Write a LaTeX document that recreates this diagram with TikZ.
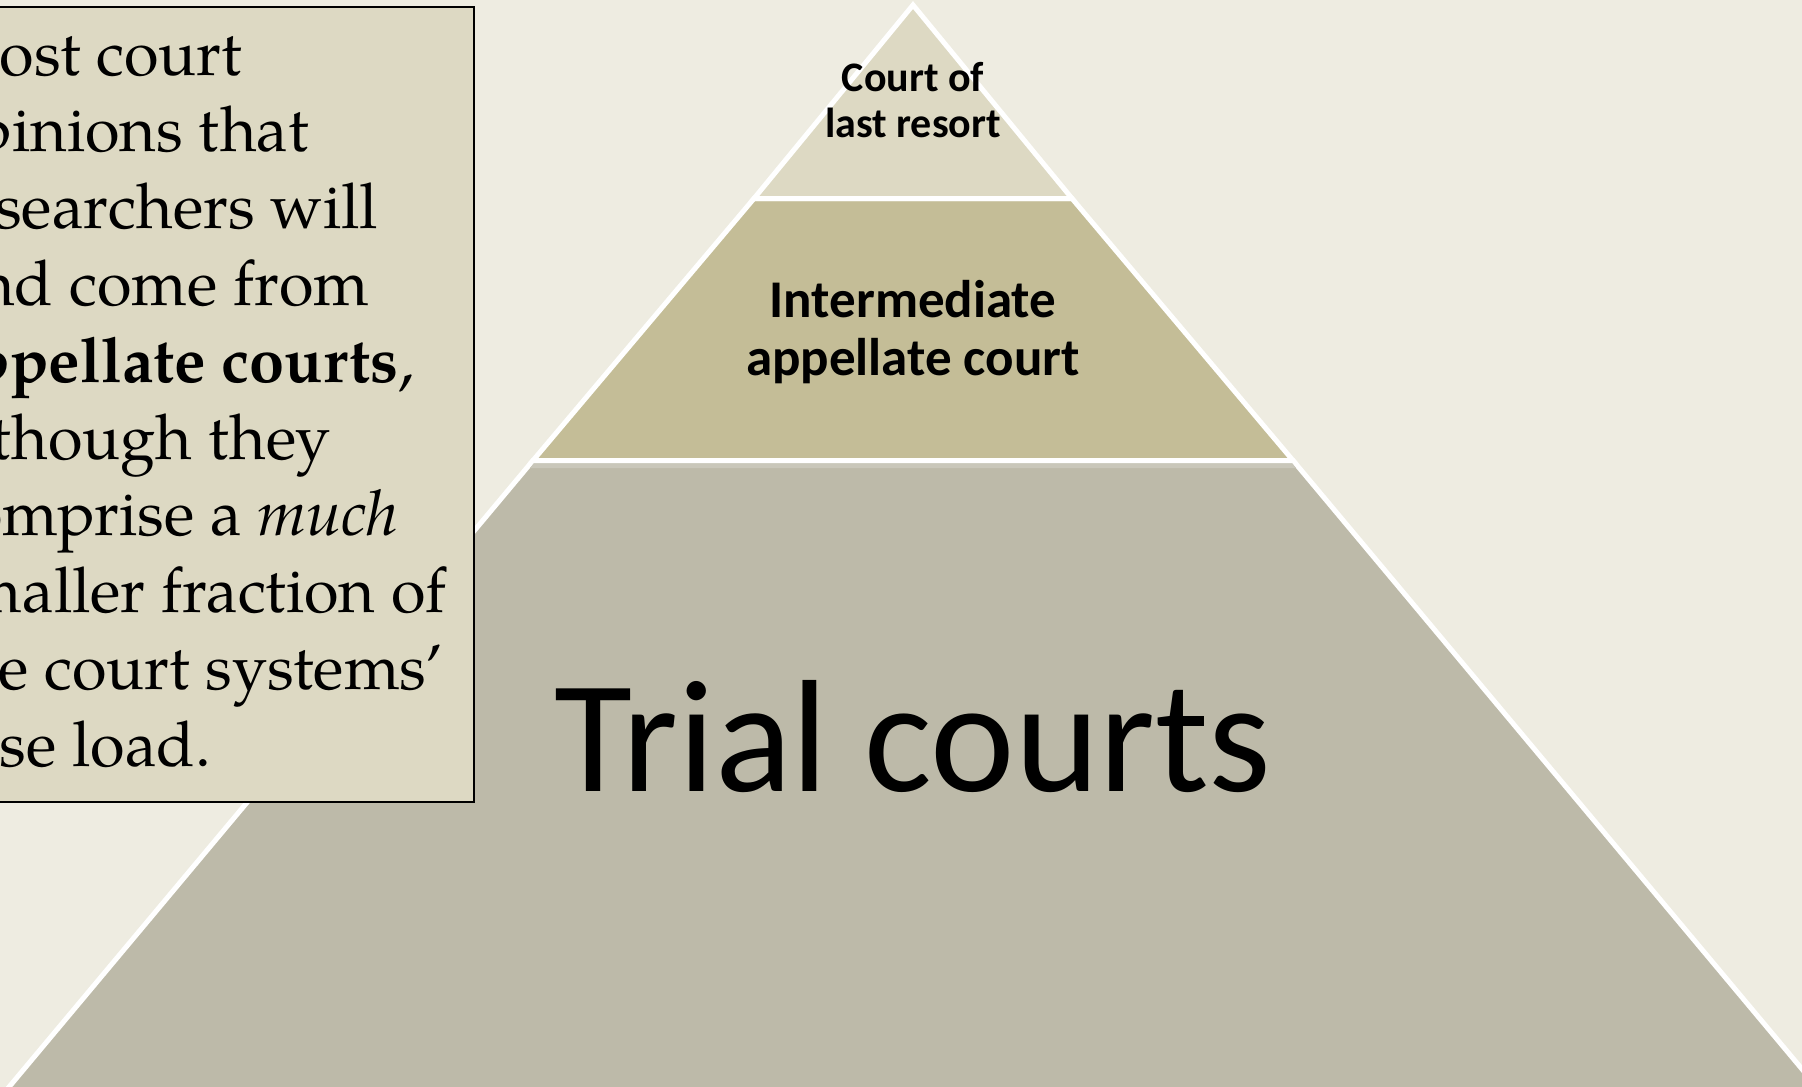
\documentclass[tikz,border=0pt]{standalone}
\usepackage{fontspec}
\newfontfamily\calibri{Carlito}
\newfontfamily\palfont{TeX Gyre Pagella}
\definecolor{bgc}{HTML}{EEECE1}
\definecolor{tiertop}{HTML}{DDD9C3}
\definecolor{tiermid}{HTML}{C4BD97}
\definecolor{tierbot}{HTML}{BDBAA9}
\definecolor{tierstrip}{HTML}{C9C7BA}
\definecolor{boxfill}{HTML}{DDD9C3}
\tikzset{
  tier/.style={draw=white, line width=5pt, line join=miter},
  boxtext/.style={anchor=base west, inner sep=0pt, font=\palfont\fontsize{63}{76.8}\selectfont},
  smalllbl/.style={anchor=base, inner sep=0pt, font=\calibri\bfseries\fontsize{42}{46}\selectfont},
  midlbl/.style={anchor=base, inner sep=0pt, font=\calibri\bfseries\fontsize{53}{58}\selectfont},
  biglbl/.style={anchor=base, inner sep=0pt, font=\calibri\fontsize{160}{170}\selectfont}
}
\begin{document}
\begin{tikzpicture}[x=1pt,y=-1pt]
\useasboundingbox (0,0) rectangle (1802,1087);
\clip (0,0) rectangle (1802,1087);
\fill[bgc] (0,0) rectangle (1802,1087);
% pyramid tiers
\path[tier, fill=tierbot] (533,460.5) -- (1293,460.5) -- (1822,1093) -- (4,1093) -- cycle;
\fill[tierstrip] (534,463) -- (1292,463) -- (1296,468) -- (530,468) -- cycle;
\path[tier, fill=tiermid] (754,198.5) -- (1072,198.5) -- (1293,460.5) -- (533,460.5) -- cycle;
\path[tier, fill=tiertop] (913,5) -- (1072,198.5) -- (754,198.5) -- cycle;
% labels
\node[smalllbl] (c1) at (913,91) {Court of};
\node[smalllbl] (c2) at (913,137) {last resort};
\node[midlbl] (m1) at (913,317) {Intermediate};
\node[midlbl] (m2) at (913,375) {appellate court};
\node[biglbl] (t1) at (913,791) {Trial courts};
% text box
\draw[fill=boxfill, draw=black, line width=2.5pt] (-10,7) rectangle (474,802);
\node[boxtext] (l1) at (-60,75) {Most court};
\node[boxtext] (l2) at (-60,151.9) {opinions that};
\node[boxtext] (l3) at (-60,228.7) {researchers will};
\node[boxtext] (l4) at (-60,305.5) {find come from};
\node[boxtext] (l5) at (-60,382.3) {{\bfseries appellate courts},};
\node[boxtext] (l6) at (-60,459.1) {although they};
\node[boxtext] (l7) at (-60,535.9) {comprise a {\itshape much}};
\node[boxtext] (l8) at (-60,612.7) {smaller fraction of};
\node[boxtext] (l9) at (-60,689.5) {the court systems’};
\node[boxtext] (l10) at (-60,766.3) {case load.};
\end{tikzpicture}
\end{document}
